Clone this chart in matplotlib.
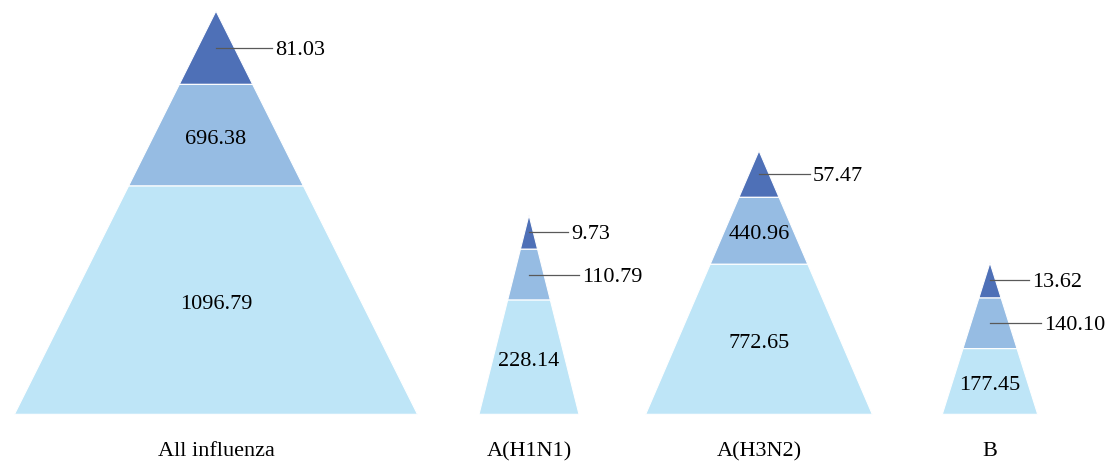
import matplotlib
matplotlib.use("Agg")
import matplotlib.pyplot as plt
from matplotlib.patches import Polygon

# data: values per layer, top (dark) -> bottom (light)
categories = ["All influenza", "A(H1N1)", "A(H3N2)", "B"]
top_vals = [81.03, 9.73, 57.47, 13.62]
mid_vals = [696.38, 110.79, 440.96, 140.10]
base_vals = [1096.79, 228.14, 772.65, 177.45]

# layout (pixel space of the 1111x462 canvas)
apex_x = [216, 529, 759, 990]
apex_y = [11, 215, 150.7, 262.7]
half_w = [201.5, 50, 113.3, 47.7]
base_y = 414.3
# band cut points as fraction of the height from the apex
cut1 = [0.182, 0.172, 0.177, 0.233]
cut2 = [0.434, 0.427, 0.431, 0.567]
# leader length for labels placed outside (None -> label inside band)
lead_top = [56, 39, 51, 39]
lead_mid = [None, 50, None, 51]

colors = ["#4E70B7", "#96BCE3", "#BEE5F7"]

plt.rcParams['font.family'] = ['Liberation Serif', 'DejaVu Serif']
FS = 16
DY = 2.5  # text baseline nudge

fig = plt.figure(figsize=(11.11, 4.62), dpi=100)
ax = fig.add_axes([0, 0, 1, 1])
ax.set_xlim(0, 1111)
ax.set_ylim(462, 0)
ax.axis('off')


def x_at(i, y, side):
    # x of triangle edge at height y
    f = (y - apex_y[i]) / (base_y - apex_y[i])
    return apex_x[i] + side * half_w[i] * f


for i, cat in enumerate(categories):
    h = base_y - apex_y[i]
    ys = [apex_y[i], apex_y[i] + cut1[i] * h, apex_y[i] + cut2[i] * h, base_y]
    vals = [top_vals[i], mid_vals[i], base_vals[i]]
    leads = [lead_top[i], lead_mid[i], None]
    for k in range(3):
        y0, y1 = ys[k], ys[k + 1]
        if k == 0:
            pts = [(apex_x[i], y0), (x_at(i, y1, 1), y1), (x_at(i, y1, -1), y1)]
        else:
            pts = [(x_at(i, y0, -1), y0), (x_at(i, y0, 1), y0),
                   (x_at(i, y1, 1), y1), (x_at(i, y1, -1), y1)]
        ax.add_patch(Polygon(pts, closed=True, facecolor=colors[k],
                             edgecolor='white', linewidth=0.8))
        ym = (y0 + y1) / 2
        txt = f"{vals[k]:.2f}"
        if leads[k] is not None:
            x1 = apex_x[i] + leads[k]
            ax.plot([apex_x[i], x1], [ym, ym], color='#595959', lw=0.9)
            ax.text(x1 + 3, ym + DY, txt, ha='left', va='center', fontsize=FS,
                    color='black')
        else:
            ax.text(apex_x[i], ym + 1.5 + DY, txt, ha='center', va='center',
                    fontsize=FS, color='black')
    ax.text(apex_x[i], 449 + DY, cat, ha='center', va='center', fontsize=FS,
            color='black')

fig.savefig('out.png', dpi=100)
